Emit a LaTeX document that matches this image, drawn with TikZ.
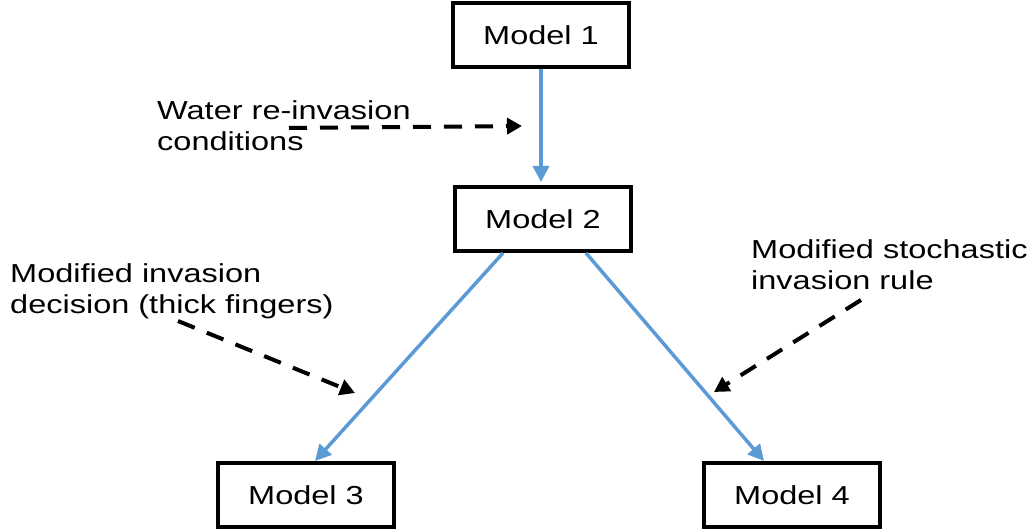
\documentclass[tikz,border=0pt]{standalone}
\usepackage{fontspec}
\setmainfont{Liberation Sans}[FakeStretch=1.25]
\usetikzlibrary{arrows.meta}
\definecolor{linkblue}{RGB}{91,155,213}

\begin{document}
\begin{tikzpicture}[x=1pt, y=-1pt,
    model/.style={draw=black, line width=4pt, minimum width=176pt, minimum height=64pt, font=\fontsize{26}{30}\selectfont},
    note/.style={anchor=north west, inner sep=0pt, align=left, font=\fontsize{26}{31}\selectfont},
    link/.style={draw=linkblue, line width=3.5pt, -{Triangle[length=16pt,width=16pt]}},
    hint/.style={line width=4pt, dash pattern=on 18pt off 13pt, -{Triangle[length=15pt,width=16pt]}}]

    \useasboundingbox (0,0) rectangle (1034,532);

    \node[model] (m1) at (541,35) {Model 1};
    \node[model] (m2) at (543,219) {Model 2};
    \node[model] (m3) at (306,495) {Model 3};
    \node[model] (m4) at (792,495) {Model 4};

    \draw[link, shorten >=3pt] (m1) -- (m1 |- m2.north);
    \draw[link] ([xshift=-40pt]m2.south) -- ([xshift=9pt]m3.north);
    \draw[link] ([xshift=43pt]m2.south) -- ([xshift=-28pt]m4.north);

    \node[note] (water) at (157,100) {Water re-invasion\\conditions};
    \node[note] (thick) at (10,263) {Modified invasion\\decision (thick fingers)};
    \node[note] (stoch) at (751,239) {Modified stochastic\\invasion rule};

    \coordinate (waterS) at (289,128);
    \coordinate (waterE) at (522,126);
    \coordinate (thickS) at (178,321);
    \coordinate (thickE) at (355,393);
    \coordinate (stochS) at (861,300);
    \coordinate (stochE) at (714,392);

    \draw[hint] (waterS) -- (waterE);
    \draw[hint] (thickS) -- (thickE);
    \draw[hint] (stochS) -- (stochE);

\end{tikzpicture}
\end{document}
